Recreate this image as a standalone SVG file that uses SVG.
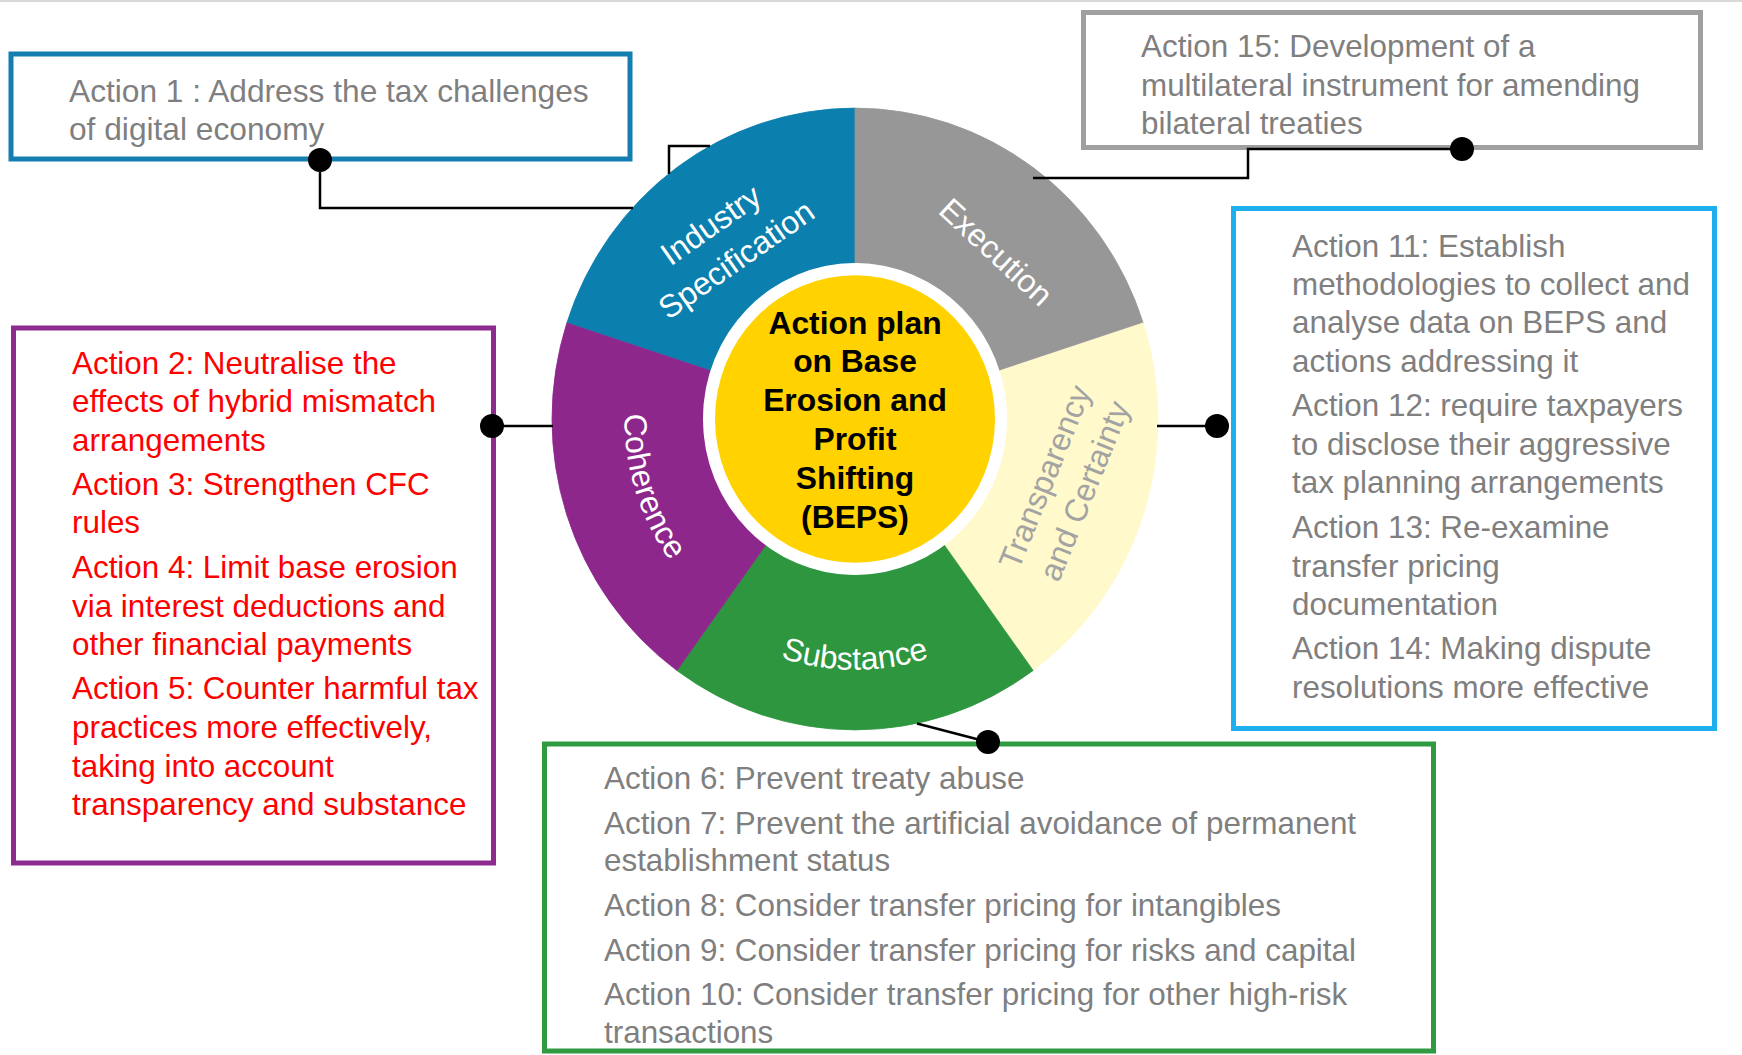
<svg xmlns="http://www.w3.org/2000/svg" width="1742" height="1055" viewBox="0 0 1742 1055">
<style>
.t{font-family:"Liberation Sans",Arial,sans-serif;font-size:31.4px;fill:#7f7f7f}
.red{fill:#ff0000}
.box{fill:#ffffff;stroke-width:5}
.conn{fill:none;stroke:#000000;stroke-width:2.5}
.dot{fill:#000000}
.lbl{font-family:"Liberation Sans",Arial,sans-serif;font-size:32px;fill:#ffffff;text-anchor:middle}
.arc{font-size:32px}
.ctr{font-family:"Liberation Sans",Arial,sans-serif;font-size:31.8px;font-weight:bold;fill:#000000;text-anchor:middle}
</style>
<defs>
<path id="pSub" d="M643.2 544.7 A245 251.4 0 0 0 1066.8 544.7"/>
<path id="pCoh" d="M683.3 261 A231 237 0 0 0 807 650.8"/>
</defs>
<rect x="0" y="0" width="1742" height="1055" fill="#ffffff"/>
<rect x="0" y="0" width="1742" height="2" fill="#d9d9d9"/>

<g id="wheel">
<g transform="translate(855 419) scale(1 1.026)">
<path id="seg-industry" d="M-288.17 -93.63 A303 303 0 0 1 0 -303 L0 -152 A152 152 0 0 0 -144.56 -46.97 Z" fill="#0b7fad" stroke="#0b7fad" stroke-width="0.8"/>
<path id="seg-execution" d="M0 -303 A303 303 0 0 1 288.17 -93.63 L144.56 -46.97 A152 152 0 0 0 0 -152 Z" fill="#979797" stroke="#979797" stroke-width="0.8"/>
<path id="seg-transparency" d="M288.17 -93.63 A303 303 0 0 1 178.1 245.13 L89.34 122.97 A152 152 0 0 0 144.56 -46.97 Z" fill="#fff9cc" stroke="#fff9cc" stroke-width="0.8"/>
<path id="seg-substance" d="M178.1 245.13 A303 303 0 0 1 -178.1 245.13 L-89.34 122.97 A152 152 0 0 0 89.34 122.97 Z" fill="#2e963f" stroke="#2e963f" stroke-width="0.8"/>
<path id="seg-coherence" d="M-178.1 245.13 A303 303 0 0 1 -288.17 -93.63 L-144.56 -46.97 A152 152 0 0 0 -89.34 122.97 Z" fill="#8e278c" stroke="#8e278c" stroke-width="0.8"/>
<circle cx="0" cy="0" r="152" fill="#ffffff"/>
<circle cx="0" cy="0" r="140" fill="#ffd200"/>
</g>
<text class="lbl" transform="translate(717 234) rotate(-35)">Industry</text>
<text class="lbl" transform="translate(742.5 268.5) rotate(-35)">Specification</text>
<text class="lbl" transform="translate(988.5 260) rotate(42.8)">Execution</text>
<text class="lbl" style="fill:#a3a3a3" transform="translate(1055 481) rotate(-68)">Transparency</text>
<text class="lbl" style="fill:#a3a3a3" transform="translate(1094.5 495) rotate(-68)">and Certainty</text>
<text class="lbl arc"><textPath href="#pSub" startOffset="50%">Substance</textPath></text>
<text class="lbl arc"><textPath href="#pCoh" startOffset="50%">Coherence</textPath></text>
</g>

<g id="center">
<text class="ctr" x="855" y="333.5">Action plan</text>
<text class="ctr" x="855" y="372.3">on Base</text>
<text class="ctr" x="855" y="411.1">Erosion and</text>
<text class="ctr" x="855" y="449.9">Profit</text>
<text class="ctr" x="855" y="488.7">Shifting</text>
<text class="ctr" x="855" y="527.5">(BEPS)</text>
</g>

<g id="action1">
<rect class="box" x="11" y="54" width="619" height="105" stroke="#137eaf"/>
<text class="t" x="69" y="101.5" style="font-size:31.7px">Action 1 : Address the tax challenges</text>
<text class="t" x="69" y="140" style="font-size:31.7px">of digital economy</text>
</g>

<g id="action15">
<rect class="box" x="1083.5" y="12.5" width="617" height="135" stroke="#a0a0a0"/>
<text class="t" x="1141" y="57">Action 15: Development of a</text>
<text class="t" x="1141" y="95.6">multilateral instrument for amending</text>
<text class="t" x="1141" y="134.2">bilateral treaties</text>
</g>

<g id="actions2to5">
<rect class="box" x="13.5" y="328" width="480" height="535" stroke="#8e2b8f"/>
<text class="t red" x="72" y="373.5">Action 2: Neutralise the</text>
<text class="t red" x="72" y="412">effects of hybrid mismatch</text>
<text class="t red" x="72" y="450.5">arrangements</text>
<text class="t red" x="72" y="494.5">Action 3: Strengthen CFC</text>
<text class="t red" x="72" y="532.5">rules</text>
<text class="t red" x="72" y="578">Action 4: Limit base erosion</text>
<text class="t red" x="72" y="616.5">via interest deductions and</text>
<text class="t red" x="72" y="655">other financial payments</text>
<text class="t red" x="72" y="699">Action 5: Counter harmful tax</text>
<text class="t red" x="72" y="738">practices more effectively,</text>
<text class="t red" x="72" y="777">taking into account</text>
<text class="t red" x="72" y="815">transparency and substance</text>
</g>

<g id="actions11to14">
<rect class="box" x="1233.5" y="208.5" width="481" height="520" stroke="#1eb0ee"/>
<text class="t" x="1292" y="256.5">Action 11: Establish</text>
<text class="t" x="1292" y="295">methodologies to collect and</text>
<text class="t" x="1292" y="333.3">analyse data on BEPS and</text>
<text class="t" x="1292" y="371.5">actions addressing it</text>
<text class="t" x="1292" y="416">Action 12: require taxpayers</text>
<text class="t" x="1292" y="454.8">to disclose their aggressive</text>
<text class="t" x="1292" y="493">tax planning arrangements</text>
<text class="t" x="1292" y="538">Action 13: Re-examine</text>
<text class="t" x="1292" y="576.6">transfer pricing</text>
<text class="t" x="1292" y="615">documentation</text>
<text class="t" x="1292" y="659.3">Action 14: Making dispute</text>
<text class="t" x="1292" y="698">resolutions more effective</text>
</g>

<g id="actions6to10">
<rect class="box" x="544.5" y="744" width="889" height="307" stroke="#2f9a40"/>
<text class="t" x="604" y="788.5">Action 6: Prevent treaty abuse</text>
<text class="t" x="604" y="833.5">Action 7: Prevent the artificial avoidance of permanent</text>
<text class="t" x="604" y="871">establishment status</text>
<text class="t" x="604" y="916">Action 8: Consider transfer pricing for intangibles</text>
<text class="t" x="604" y="960.5">Action 9: Consider transfer pricing for risks and capital</text>
<text class="t" x="604" y="1004.5">Action 10: Consider transfer pricing for other high-risk</text>
<text class="t" x="604" y="1043">transactions</text>
</g>

<g id="connectors">
<polyline class="conn" points="320,160 320,208 633,208"/>
<polyline class="conn" points="669,174 669,146 710,146"/>
<line class="conn" x1="492" y1="426" x2="553" y2="426"/>
<line class="conn" x1="1157" y1="426" x2="1217" y2="426"/>
<line class="conn" x1="917" y1="723.5" x2="988" y2="742"/>
<polyline class="conn" points="1462,149 1248,149 1248,178 1033,178"/>
<circle class="dot" cx="320" cy="160" r="12"/>
<circle class="dot" cx="492" cy="426" r="12"/>
<circle class="dot" cx="1217" cy="426" r="12"/>
<circle class="dot" cx="988" cy="742" r="12"/>
<circle class="dot" cx="1462" cy="149" r="12"/>
</g>
</svg>
